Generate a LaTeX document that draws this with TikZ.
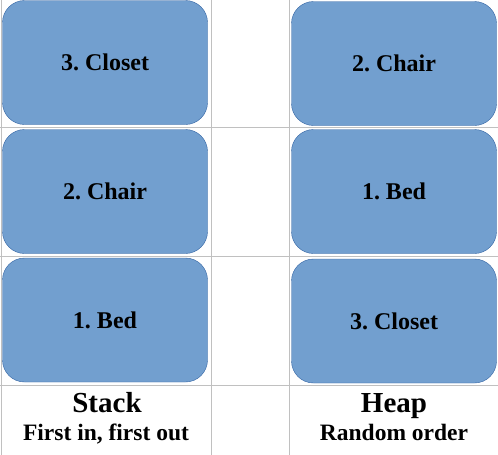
\documentclass[tikz,border=0pt]{standalone}
\usepackage{fontspec}
\setmainfont{Liberation Serif}
\usetikzlibrary{positioning}
\frenchspacing
\definecolor{boxfill}{HTML}{729FCF}
\definecolor{boxline}{HTML}{3465A4}
\definecolor{gridgray}{HTML}{C0C0C0}
\tikzset{
    crate/.style={draw=boxline,fill=boxfill,rounded corners=22pt,minimum width=205pt,minimum height=124pt,
        inner sep=0pt,font=\fontsize{24}{28}\selectfont\bfseries},
    title/.style={anchor=base,inner sep=0pt,font=\fontsize{29}{34}\selectfont\bfseries},
    subtitle/.style={anchor=base,inner sep=0pt,font=\fontsize{23.5}{28}\selectfont\bfseries},
    cell/.style={draw=gridgray,line width=1pt},
}
\begin{document}
\begin{tikzpicture}[x=1pt,y=-1pt]
    \useasboundingbox (0,0) rectangle (498,455);
    % table grid
    \draw[cell] (0,127) -- (498,127) (0,256) -- (498,256) (0,385) -- (498,385);
    \draw[cell] (1.5,0) -- (1.5,455) (211.5,0) -- (211.5,455) (289.5,0) -- (289.5,455);

    % stack
    \node[crate] (s3) at (105,62.5) {3. Closet};
    \node[crate] (s2) at (105,191.5) {2. Chair};
    \node[crate] (s1) at (105,320) {1. Bed};
    \node[title] (stack) at (107,412.7) {Stack};
    \node[subtitle] (fifo) at (106,440) {First in, first out};

    % heap
    \node[crate] (h2) at (394,63.5) {2. Chair};
    \node[crate] (h1) at (394,191.5) {1. Bed};
    \node[crate] (h3) at (394,321) {3. Closet};
    \node[title] (heap) at (394,412.7) {Heap};
    \node[subtitle] (rand) at (394,440.5) {Random order};
\end{tikzpicture}
\end{document}
